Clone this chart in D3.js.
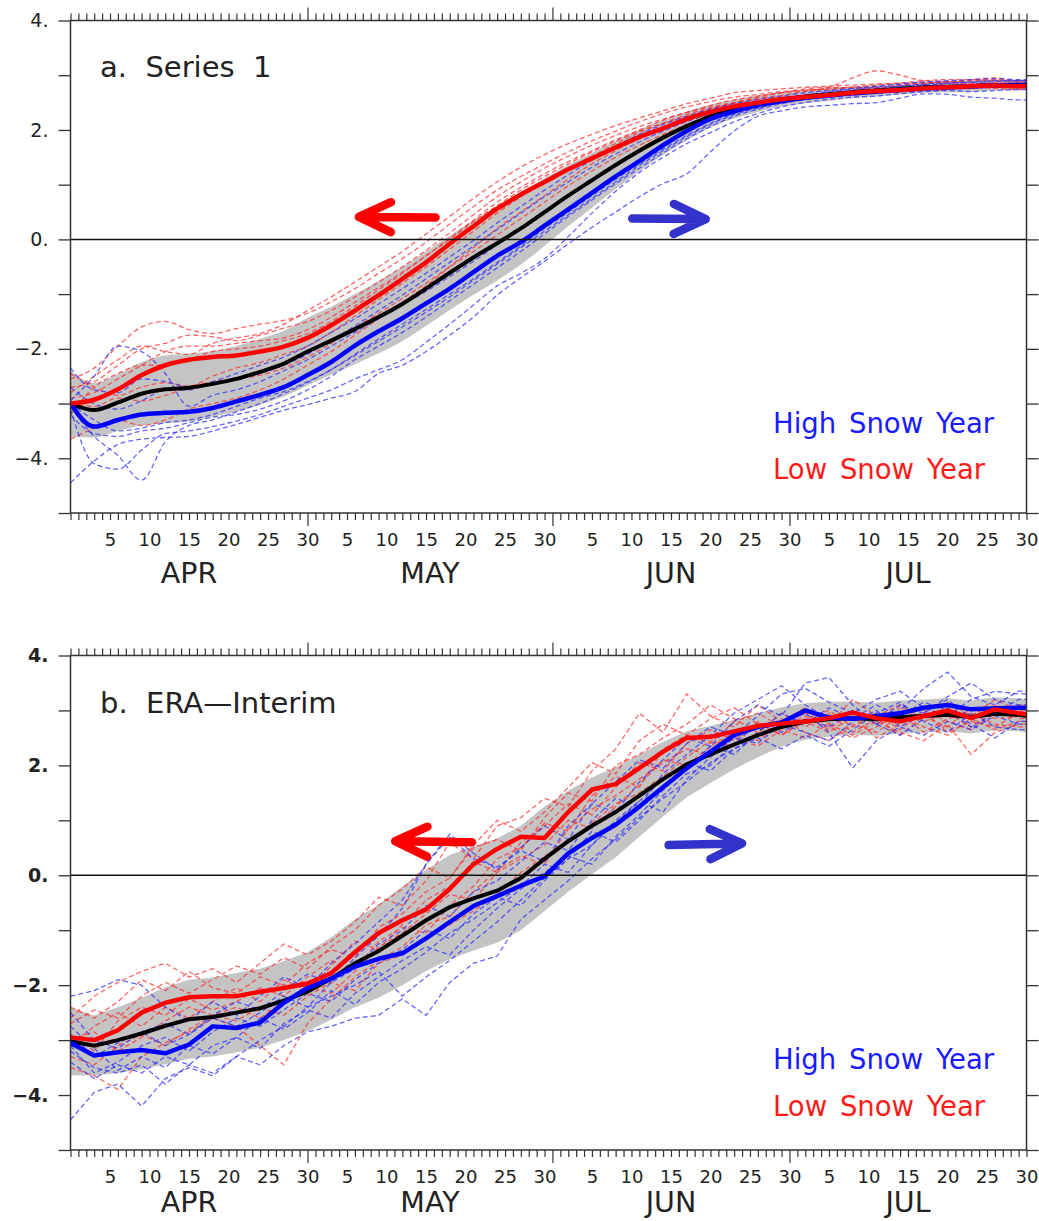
<!DOCTYPE html>
<html>
<head>
<meta charset="utf-8">
<script src="https://cdn.jsdelivr.net/npm/d3@7"></script>
<style>
  body { margin: 0; background: #fff; }
  svg { display: block; }
  text { font-family: "DejaVu Sans", sans-serif; }
</style>
</head>
<body>
<svg id="fig" width="1039" height="1221"></svg>
<script>
// Day index: 0 = Mar 31, 30 = Apr 30, 61 = May 31, 91 = Jun 30, 121 = Jul 30
const days = [0,3,6,9,12,15,18,21,24,27,30,33,36,39,
  42,45,48,51,54,57,60,63,66,69,72,75,78,81,
  84,87,90,93,96,99,102,105,108,111,114,117,120,121];

const dayTickLabels = [5,10,15,20,25,30, 35,40,45,50,55,60, 66,71,76,81,86,91, 96,101,106,111,116,121];
const dayTickText   = ["5","10","15","20","25","30","5","10","15","20","25","30",
                       "5","10","15","20","25","30","5","10","15","20","25","30"];
const monthPos   = [15, 45.5, 76, 106];
const monthNames = ["APR","MAY","JUN","JUL"];
const longTicks  = [30, 61, 91];
const yTicks     = [-5,-4,-3,-2,-1,0,1,2,3,4];

// ---------------- Panel a: Series 1 ----------------
const meanA = [-3.00,-3.12,-2.98,-2.82,-2.74,-2.71,-2.64,-2.55,-2.42,-2.27,-2.05,-1.85,-1.64,-1.42,
  -1.18,-0.90,-0.61,-0.33,-0.07,0.20,0.50,0.80,1.08,1.36,1.62,1.86,2.07,2.25,
  2.38,2.48,2.56,2.61,2.65,2.69,2.72,2.75,2.78,2.79,2.80,2.82,2.82,2.82];
const spreadA = [0.60,0.50,0.52,0.58,0.62,0.62,0.60,0.60,0.60,0.60,0.62,0.62,0.64,0.66,
  0.68,0.68,0.68,0.68,0.68,0.66,0.62,0.56,0.50,0.44,0.38,0.32,0.26,0.21,
  0.17,0.15,0.13,0.12,0.12,0.11,0.11,0.10,0.10,0.10,0.10,0.10,0.10,0.10];
const lowSnowA = [-3.00,-2.93,-2.74,-2.48,-2.30,-2.20,-2.15,-2.12,-2.05,-1.96,-1.80,-1.57,-1.30,-1.02,
  -0.72,-0.42,-0.08,0.24,0.56,0.82,1.05,1.28,1.48,1.68,1.87,2.03,2.20,2.33,
  2.43,2.50,2.56,2.60,2.64,2.68,2.71,2.73,2.76,2.78,2.80,2.81,2.80,2.80];
const highSnowA = [-3.00,-3.42,-3.30,-3.20,-3.17,-3.15,-3.08,-2.96,-2.84,-2.70,-2.48,-2.24,-1.94,-1.68,
  -1.44,-1.17,-0.90,-0.60,-0.30,-0.05,0.25,0.55,0.85,1.15,1.43,1.72,1.98,2.20,
  2.34,2.45,2.53,2.59,2.63,2.67,2.70,2.73,2.76,2.78,2.80,2.81,2.81,2.81];
const lowYearsA = [
  [-2.55,-2.35,-1.95,-1.60,-1.50,-1.65,-1.72,-1.63,-1.55,-1.48,-1.35,-1.14,-0.90,-0.62,
   -0.35,-0.05,0.28,0.60,0.90,1.15,1.38,1.60,1.80,1.98,2.15,2.30,2.42,2.52,
   2.60,2.65,2.70,2.73,2.74,2.78,2.82,2.85,2.86,2.88,2.90,2.92,2.90,2.90],
  [-2.70,-2.60,-2.30,-2.00,-1.90,-1.75,-1.78,-1.85,-1.75,-1.62,-1.50,-1.30,-1.05,-0.78,
   -0.50,-0.20,0.12,0.45,0.78,1.05,1.30,1.52,1.72,1.90,2.06,2.20,2.32,2.45,
   2.55,2.62,2.68,2.72,2.78,2.95,3.08,3.00,2.90,2.88,2.92,2.95,2.88,2.86],
  [-2.90,-2.80,-2.55,-2.30,-2.05,-1.95,-1.95,-1.90,-1.85,-1.80,-1.65,-1.42,-1.15,-0.88,
   -0.60,-0.30,0.02,0.35,0.68,0.95,1.20,1.42,1.62,1.82,2.00,2.18,2.32,2.42,
   2.50,2.58,2.63,2.70,2.75,2.78,2.76,2.80,2.84,2.88,2.86,2.85,2.82,2.80],
  [-3.65,-3.45,-3.30,-3.40,-3.30,-3.10,-3.00,-2.90,-2.75,-2.55,-2.30,-2.05,-1.75,-1.45,
   -1.15,-0.85,-0.50,-0.15,0.20,0.50,0.80,1.10,1.38,1.62,1.85,2.02,2.18,2.30,
   2.40,2.48,2.55,2.60,2.62,2.65,2.70,2.72,2.74,2.76,2.78,2.76,2.74,2.74],
  [-2.45,-2.70,-2.85,-2.70,-2.62,-2.68,-2.50,-2.35,-2.25,-2.10,-1.95,-1.70,-1.40,-1.10,
   -0.80,-0.50,-0.18,0.15,0.48,0.78,1.05,1.30,1.52,1.75,1.95,2.12,2.28,2.40,
   2.48,2.55,2.60,2.64,2.68,2.70,2.74,2.76,2.80,2.82,2.80,2.82,2.84,2.84],
  [-3.20,-2.70,-2.45,-2.30,-2.30,-2.20,-2.05,-2.00,-1.95,-1.85,-1.72,-1.50,-1.22,-0.92,
   -0.62,-0.30,0.00,0.32,0.62,0.90,1.15,1.38,1.60,1.80,1.98,2.12,2.25,2.38,
   2.50,2.60,2.68,2.75,2.78,2.76,2.78,2.82,2.86,2.86,2.84,2.86,2.86,2.85],
  [-3.00,-3.05,-2.90,-2.95,-2.85,-2.70,-2.60,-2.55,-2.48,-2.35,-2.15,-1.90,-1.62,-1.35,
   -1.08,-0.80,-0.50,-0.22,0.08,0.38,0.68,0.98,1.25,1.50,1.72,1.92,2.10,2.25,
   2.36,2.45,2.52,2.58,2.62,2.66,2.68,2.70,2.72,2.74,2.76,2.78,2.78,2.78],
  [-2.80,-2.50,-2.20,-1.95,-2.05,-2.10,-1.90,-1.80,-1.72,-1.55,-1.30,-1.05,-0.78,-0.50,
   -0.22,0.10,0.42,0.75,1.05,1.32,1.55,1.75,1.92,2.08,2.22,2.35,2.48,2.58,
   2.68,2.72,2.75,2.78,2.80,2.82,2.84,2.86,2.90,2.92,2.92,2.90,2.88,2.88]
];
const highYearsA = [
  [-4.45,-4.05,-3.75,-3.65,-3.62,-3.60,-3.50,-3.38,-3.25,-3.12,-3.02,-2.90,-2.78,-2.45,
   -2.30,-2.05,-1.75,-1.42,-1.02,-0.70,-0.40,-0.08,0.22,0.50,0.78,1.02,1.20,1.60,
   1.98,2.25,2.35,2.42,2.45,2.48,2.50,2.58,2.66,2.65,2.60,2.58,2.55,2.55],
  [-3.10,-4.10,-4.20,-3.85,-3.55,-3.50,-3.42,-3.32,-3.20,-3.05,-2.90,-2.75,-2.55,-2.38,
   -2.20,-1.88,-1.55,-1.20,-0.85,-0.62,-0.35,0.05,0.48,0.88,1.22,1.50,1.75,1.95,
   2.15,2.30,2.42,2.50,2.56,2.60,2.62,2.66,2.70,2.72,2.70,2.72,2.74,2.74],
  [-2.95,-2.50,-1.95,-2.05,-2.45,-3.05,-2.85,-2.75,-2.60,-2.40,-2.20,-1.95,-1.70,-1.45,
   -1.20,-0.95,-0.68,-0.40,-0.10,0.20,0.50,0.80,1.10,1.38,1.62,1.85,2.05,2.22,
   2.36,2.47,2.55,2.62,2.68,2.72,2.75,2.80,2.84,2.86,2.88,2.90,2.90,2.88],
  [-2.35,-2.75,-2.80,-2.55,-2.60,-2.70,-2.65,-2.55,-2.45,-2.30,-2.10,-1.85,-1.58,-1.30,
   -1.02,-0.72,-0.42,-0.12,0.18,0.48,0.78,1.05,1.32,1.56,1.78,1.98,2.15,2.30,
   2.42,2.50,2.58,2.64,2.70,2.74,2.78,2.80,2.82,2.85,2.87,2.88,2.90,2.90],
  [-3.05,-3.60,-3.95,-4.40,-3.70,-3.40,-3.30,-3.15,-3.00,-2.82,-2.62,-2.38,-2.10,-1.82,
   -1.55,-1.28,-1.00,-0.72,-0.42,-0.12,0.20,0.50,0.80,1.10,1.38,1.65,1.90,2.12,
   2.30,2.42,2.50,2.56,2.62,2.66,2.70,2.74,2.78,2.80,2.82,2.84,2.85,2.85],
  [-3.00,-3.30,-3.50,-3.45,-3.35,-3.30,-3.20,-3.05,-2.90,-2.78,-2.60,-2.38,-2.12,-1.86,
   -1.60,-1.33,-1.05,-0.75,-0.45,-0.15,0.15,0.45,0.75,1.05,1.35,1.62,1.88,2.10,
   2.28,2.40,2.50,2.58,2.64,2.68,2.72,2.76,2.78,2.80,2.82,2.84,2.86,2.86],
  [-2.70,-3.00,-3.10,-2.95,-2.75,-2.75,-2.60,-2.45,-2.30,-2.15,-1.95,-1.70,-1.45,-1.18,
   -0.90,-0.62,-0.32,-0.02,0.30,0.60,0.90,1.18,1.45,1.70,1.92,2.10,2.25,2.38,
   2.48,2.56,2.62,2.68,2.72,2.76,2.80,2.84,2.88,2.90,2.92,2.94,2.92,2.92],
  [-3.20,-3.55,-3.60,-3.50,-3.45,-3.35,-3.25,-3.20,-3.10,-2.95,-2.75,-2.50,-2.20,-1.95,
   -1.70,-1.42,-1.12,-0.82,-0.52,-0.22,0.10,0.42,0.72,1.02,1.30,1.58,1.84,2.06,
   2.25,2.38,2.48,2.55,2.60,2.64,2.68,2.70,2.72,2.74,2.76,2.78,2.80,2.80]
];

// ---------------- Panel b: ERA-Interim ----------------
const meanB = [-3.02,-3.10,-3.00,-2.88,-2.74,-2.62,-2.58,-2.50,-2.42,-2.28,-2.12,-1.88,-1.60,-1.38,
  -1.10,-0.82,-0.58,-0.42,-0.28,-0.05,0.30,0.62,0.90,1.15,1.45,1.75,2.02,2.20,
  2.38,2.55,2.70,2.80,2.84,2.86,2.84,2.88,2.90,2.92,2.88,2.94,2.92,2.90];
const spreadB = [0.62,0.55,0.60,0.65,0.70,0.72,0.72,0.72,0.72,0.72,0.72,0.75,0.80,0.85,
  0.90,0.92,0.95,0.95,0.95,0.95,0.95,0.92,0.88,0.82,0.75,0.68,0.60,0.52,
  0.45,0.40,0.36,0.33,0.32,0.30,0.30,0.30,0.30,0.30,0.30,0.30,0.30,0.30];
const lowSnowB = [-2.95,-3.00,-2.82,-2.50,-2.32,-2.22,-2.20,-2.20,-2.12,-2.05,-1.97,-1.78,-1.40,-1.05,
  -0.82,-0.62,-0.25,0.20,0.48,0.70,0.68,1.15,1.56,1.66,1.95,2.25,2.50,2.52,
  2.62,2.72,2.76,2.80,2.86,2.96,2.86,2.80,2.90,3.00,2.86,3.02,2.95,2.93];
const highSnowB = [-3.05,-3.28,-3.22,-3.18,-3.24,-3.08,-2.75,-2.78,-2.68,-2.32,-2.05,-1.88,-1.66,-1.52,
  -1.42,-1.15,-0.85,-0.56,-0.38,-0.19,-0.02,0.40,0.68,0.92,1.25,1.60,1.95,2.25,
  2.55,2.70,2.78,3.00,2.87,2.85,2.90,2.95,3.05,3.10,3.02,3.04,3.05,3.05];
const lowYearsB = [
  [-2.60,-2.20,-1.95,-1.75,-1.60,-1.85,-1.70,-1.95,-1.60,-1.25,-1.45,-1.20,-0.85,-0.40,
   -0.55,-0.10,0.60,0.30,0.90,1.05,1.40,1.25,1.90,2.30,2.95,2.60,3.30,2.90,
   2.70,3.10,2.80,3.05,2.75,3.20,2.90,3.10,2.85,3.15,2.90,3.20,3.00,3.00],
  [-2.40,-2.60,-2.30,-1.90,-2.10,-1.75,-2.05,-2.15,-1.85,-2.00,-1.60,-1.35,-1.50,-0.95,
   -0.70,-0.30,-0.05,0.50,0.65,0.45,1.05,1.50,1.35,2.00,2.20,2.50,2.75,3.10,
   2.85,2.60,2.95,2.70,2.95,2.60,2.85,2.55,2.90,2.70,3.05,2.85,2.90,2.90],
  [-3.50,-3.65,-3.90,-3.30,-3.05,-2.85,-2.60,-2.75,-3.10,-3.45,-2.70,-2.25,-1.85,-1.55,
   -1.30,-0.90,-0.75,-0.30,0.10,0.35,0.20,0.85,1.20,1.45,1.75,2.05,2.30,2.20,
   2.50,2.35,2.65,2.50,2.75,2.55,2.80,2.60,2.45,2.75,2.20,2.60,2.75,2.75],
  [-2.90,-3.20,-2.65,-2.40,-2.55,-2.25,-2.45,-2.30,-2.05,-2.20,-1.85,-1.55,-1.70,-1.20,
   -0.95,-1.05,-0.55,-0.20,0.30,0.50,0.95,0.80,1.45,1.80,1.60,2.30,2.55,2.40,
   2.80,2.95,2.70,2.90,2.65,3.00,2.75,3.05,2.80,2.95,2.70,3.10,2.85,2.85],
  [-3.10,-2.75,-2.50,-2.75,-2.40,-2.60,-2.30,-2.05,-2.30,-1.90,-2.10,-1.65,-1.20,-1.35,
   -0.90,-0.45,-0.20,0.25,0.05,0.60,0.90,1.30,1.10,1.60,2.05,1.90,2.40,2.65,
   2.45,2.80,2.55,2.85,3.00,2.70,2.95,2.65,3.00,2.80,2.65,2.95,3.10,3.10],
  [-2.70,-2.45,-2.60,-2.20,-1.95,-2.15,-1.90,-1.65,-1.80,-1.50,-1.70,-1.30,-1.00,-0.55,
   -0.25,0.15,-0.05,0.55,1.00,0.80,1.15,1.60,2.05,1.85,2.45,2.75,2.55,2.85,
   3.05,2.75,2.55,2.80,2.60,2.90,2.50,2.75,2.95,2.60,2.80,2.70,2.95,2.95],
  [-3.30,-3.45,-3.10,-2.90,-3.10,-2.80,-2.55,-2.65,-2.40,-2.55,-2.20,-1.95,-2.10,-1.60,
   -1.45,-1.15,-0.90,-0.65,-0.35,0.05,0.35,0.60,0.95,1.30,1.50,1.80,2.15,2.45,
   2.35,2.60,2.85,2.60,2.45,2.75,2.60,2.90,2.70,2.55,2.85,2.65,2.80,2.80],
  [-3.00,-2.85,-3.20,-2.95,-2.65,-2.40,-2.55,-2.40,-2.60,-2.30,-2.00,-2.15,-1.75,-1.30,
   -1.05,-0.70,-0.35,-0.45,0.05,0.30,0.55,1.00,0.85,1.25,1.65,2.10,2.00,2.35,
   2.60,2.45,2.75,2.95,2.70,2.50,2.70,2.95,2.60,2.85,2.95,2.75,2.70,2.70]
];
const highYearsB = [
  [-4.45,-3.95,-3.80,-4.20,-3.70,-3.50,-3.65,-3.30,-3.45,-3.10,-2.85,-2.75,-2.60,-2.55,
   -2.25,-2.55,-1.95,-1.60,-1.47,-0.80,-0.45,-0.10,0.30,0.65,1.05,1.40,1.70,2.05,
   2.30,2.55,2.75,2.95,2.60,1.95,2.45,2.70,2.55,2.80,2.65,2.90,2.75,2.75],
  [-2.20,-2.10,-1.90,-2.00,-2.40,-2.65,-2.30,-2.55,-2.20,-1.85,-2.05,-1.60,-1.25,-0.85,
   -0.45,0.20,0.70,0.30,0.15,0.45,0.25,0.90,1.30,1.15,1.70,2.10,2.50,2.35,
   2.80,3.10,2.90,3.50,3.60,3.10,2.75,3.00,3.40,3.70,3.25,3.10,3.35,3.35],
  [-3.20,-3.50,-3.60,-3.45,-3.80,-3.45,-3.60,-3.30,-3.00,-2.75,-2.40,-2.20,-2.00,-1.75,
   -2.20,-1.85,-1.55,-1.20,-0.85,-0.45,-0.05,0.30,0.55,1.00,1.35,1.15,1.75,2.15,
   2.50,2.40,2.75,2.60,2.45,2.80,3.00,2.70,2.95,3.20,2.85,3.05,2.95,2.95],
  [-2.90,-3.30,-3.05,-2.85,-3.10,-2.90,-2.60,-2.75,-2.50,-2.20,-2.40,-1.95,-1.70,-1.25,
   -1.00,-0.55,-0.75,-0.30,-0.10,0.25,0.60,0.45,1.00,1.40,1.25,1.85,2.20,2.55,
   2.95,3.20,3.45,3.10,2.85,3.00,2.80,3.10,2.95,3.25,3.50,3.20,3.10,3.10],
  [-3.40,-3.70,-3.45,-3.60,-3.30,-3.45,-3.10,-2.95,-3.15,-2.70,-2.45,-2.60,-2.15,-1.85,
   -1.55,-1.30,-1.45,-1.00,-0.60,-0.25,0.05,0.35,0.20,0.70,1.10,1.55,1.95,2.35,
   2.20,2.60,2.95,2.75,3.05,2.85,3.10,2.90,3.15,3.00,2.70,2.95,3.20,3.20],
  [-2.50,-3.00,-3.15,-2.85,-2.70,-2.90,-2.55,-2.30,-2.45,-2.10,-1.80,-1.95,-1.50,-1.10,
   -0.60,0.20,0.75,0.40,0.10,0.50,0.90,0.65,1.30,1.70,2.10,1.95,2.40,2.70,
   2.55,2.90,3.30,3.40,3.15,2.95,3.20,3.35,3.05,2.90,3.20,3.35,3.30,3.30],
  [-3.10,-3.60,-3.40,-3.10,-2.95,-3.20,-2.85,-2.60,-2.75,-2.45,-2.15,-2.30,-1.90,-1.60,
   -1.35,-1.00,-1.15,-0.70,-0.40,-0.55,-0.10,0.30,0.80,0.60,1.00,1.45,1.85,2.00,
   2.40,2.75,2.60,2.85,2.70,3.00,2.75,2.55,2.85,3.05,2.75,2.50,2.80,2.80],
  [-2.75,-3.15,-3.55,-3.30,-3.50,-3.10,-3.25,-2.95,-2.60,-2.80,-2.50,-2.10,-2.35,-1.95,
   -1.70,-1.40,-1.05,-0.80,-0.50,-0.20,0.20,0.05,0.55,0.95,1.35,1.75,2.05,1.90,
   2.30,2.50,2.30,2.55,2.35,2.65,2.95,3.15,2.80,2.60,2.95,2.70,2.65,2.65]
];

// Arrow annotations in data units [day, value]
const arrowsA = [
  { from: [46.2, 0.40], to: [36.5, 0.41], color: "#ff0000" },
  { from: [71.1, 0.38], to: [80.4, 0.37], color: "#3333cc" }
];
const arrowsB = [
  { from: [50.8, 0.60], to: [41.1, 0.62], color: "#ff0000" },
  { from: [75.7, 0.55], to: [85.0, 0.58], color: "#3333cc" }
];

const panels = [
  { id: "a", top: 20.5, bottom: 513, title: "a.  Series  1", boldY: false, smooth: true, monthGap: 70,
    mean: meanA, spread: spreadA, low: lowSnowA, high: highSnowA,
    lowYears: lowYearsA, highYears: highYearsA, arrows: arrowsA },
  { id: "b", top: 655.5, bottom: 1150, title: "b.  ERA\u2014Interim", boldY: true, smooth: false, monthGap: 62,
    mean: meanB, spread: spreadB, low: lowSnowB, high: highSnowB,
    lowYears: lowYearsB, highYears: highYearsB, arrows: arrowsB }
];

const svg = d3.select("#fig");
const x = d3.scaleLinear().domain([0, 121]).range([70.5, 1026.5]);
const axisColor = "#333";

panels.forEach(p => {
  const y = d3.scaleLinear().domain([-5, 4]).range([p.bottom, p.top]);
  const g = svg.append("g").attr("class", "panel-" + p.id);
  const curve = p.smooth ? d3.curveMonotoneX : d3.curveLinear;

  g.append("clipPath").attr("id", "clip-" + p.id)
    .append("rect").attr("x", x(0)).attr("y", y(4))
    .attr("width", x(121) - x(0)).attr("height", y(-5) - y(4));
  const plot = g.append("g").attr("clip-path", `url(#clip-${p.id})`);

  // spread band around the all-year mean
  const band = d3.area()
    .x((d, i) => x(days[i]))
    .y0((d, i) => y(p.mean[i] - p.spread[i]))
    .y1((d, i) => y(p.mean[i] + p.spread[i]))
    .curve(curve);
  plot.append("path").datum(p.mean).attr("d", band).attr("fill", "#c4c4c4");

  const line = d3.line().x((d, i) => x(days[i])).y(d => y(d)).curve(curve);

  // individual years (dashed)
  plot.selectAll(".low-year").data(p.lowYears).join("path")
    .attr("class", "low-year").attr("d", line).attr("fill", "none")
    .attr("stroke", "#ff2a2a").attr("stroke-opacity", 0.72)
    .attr("stroke-width", 1.3).attr("stroke-dasharray", "5,3");
  plot.selectAll(".high-year").data(p.highYears).join("path")
    .attr("class", "high-year").attr("d", line).attr("fill", "none")
    .attr("stroke", "#2a2aff").attr("stroke-opacity", 0.72)
    .attr("stroke-width", 1.3).attr("stroke-dasharray", "5,3");

  // zero line
  g.append("line").attr("x1", x(0)).attr("x2", x(121))
    .attr("y1", y(0)).attr("y2", y(0)).attr("stroke", "#111").attr("stroke-width", 1.5);

  // composites
  plot.append("path").datum(p.mean).attr("d", line).attr("fill", "none")
    .attr("stroke", "#000").attr("stroke-width", 4);
  plot.append("path").datum(p.high).attr("d", line).attr("fill", "none")
    .attr("stroke", "#0000ff").attr("stroke-width", 4.5).attr("stroke-linejoin", "round");
  plot.append("path").datum(p.low).attr("d", line).attr("fill", "none")
    .attr("stroke", "#ff0000").attr("stroke-width", 4.5).attr("stroke-linejoin", "round");

  // arrows
  p.arrows.forEach(a => {
    const x0 = x(a.from[0]), y0 = y(a.from[1]);
    const x1 = x(a.to[0]), y1 = y(a.to[1]);
    const ang = Math.atan2(y1 - y0, x1 - x0);
    const back = 32, side = 15;
    const bx = x1 - back * Math.cos(ang), by = y1 - back * Math.sin(ang);
    const h1 = [bx - side * Math.sin(ang), by + side * Math.cos(ang)];
    const h2 = [bx + side * Math.sin(ang), by - side * Math.cos(ang)];
    g.append("path")
      .attr("d", `M${x0},${y0}L${x1 - 4 * Math.cos(ang)},${y1 - 4 * Math.sin(ang)}M${h1[0]},${h1[1]}L${x1},${y1}L${h2[0]},${h2[1]}`)
      .attr("fill", "none").attr("stroke", a.color).attr("stroke-width", 8.5)
      .attr("stroke-linecap", "round").attr("stroke-linejoin", "round");
  });

  // frame
  g.append("rect").attr("x", x(0)).attr("y", y(4))
    .attr("width", x(121) - x(0)).attr("height", y(-5) - y(4))
    .attr("fill", "none").attr("stroke", axisColor).attr("stroke-width", 1.5);

  // day ticks (bottom and top)
  const allDays = d3.range(0, 122);
  const bottomTicks = g.append("g").attr("transform", `translate(0,${y(-5)})`)
    .call(d3.axisBottom(x).tickValues(allDays).tickSize(7).tickSizeOuter(0).tickFormat(""));
  const topTicks = g.append("g").attr("transform", `translate(0,${y(4)})`)
    .call(d3.axisTop(x).tickValues(allDays).tickSize(7).tickSizeOuter(0).tickFormat(""));
  [bottomTicks, topTicks].forEach((ax, k) => {
    ax.select(".domain").remove();
    ax.selectAll(".tick line").attr("stroke", axisColor).attr("stroke-width", 1.2)
      .attr("y2", d => (longTicks.includes(d) ? 13 : 7) * (k === 0 ? 1 : -1));
  });

  // day labels
  const dayLab = g.append("g").attr("transform", `translate(0,${y(-5)})`)
    .call(d3.axisBottom(x).tickValues(dayTickLabels).tickSize(0).tickPadding(20)
      .tickFormat((d, i) => dayTickText[i]));
  dayLab.select(".domain").remove();
  dayLab.selectAll("text").attr("font-size", 18).attr("fill", "#222")
    .attr("font-family", "DejaVu Sans, sans-serif");

  // month labels
  g.selectAll(".month").data(monthNames).join("text").attr("class", "month")
    .attr("x", (d, i) => x(monthPos[i])).attr("y", y(-5) + p.monthGap)
    .attr("text-anchor", "middle").attr("font-size", 28.5).attr("fill", "#222")
    .text(d => d);

  // value axes
  const fmt = v => (v % 2 === 0 ? (v < 0 ? "\u2212" + Math.abs(v) : String(v)) + "." : "");
  const left = g.append("g").attr("transform", `translate(${x(0)},0)`)
    .call(d3.axisLeft(y).tickValues(yTicks).tickSize(12).tickSizeOuter(0).tickPadding(10).tickFormat(fmt));
  left.select(".domain").remove();
  left.selectAll(".tick line").attr("stroke", axisColor).attr("stroke-width", 1.3);
  left.selectAll("text").attr("font-size", 19).attr("fill", "#222")
    .attr("font-weight", p.boldY ? "bold" : "normal")
    .attr("font-family", "DejaVu Sans, sans-serif");
  const right = g.append("g").attr("transform", `translate(${x(121)},0)`)
    .call(d3.axisRight(y).tickValues(yTicks).tickSize(12).tickSizeOuter(0).tickFormat(""));
  right.select(".domain").remove();
  right.selectAll(".tick line").attr("stroke", axisColor).attr("stroke-width", 1.3);

  // title
  g.append("text").attr("x", 100).attr("y", y(2.96))
    .attr("font-size", 29).attr("fill", "#222").style("white-space", "pre")
    .text(p.title);

  // legend
  g.append("text").attr("x", 773).attr("y", y(-3.53))
    .attr("font-size", 27.5).attr("fill", "#1a1aff").attr("word-spacing", 4)
    .text("High Snow Year");
  g.append("text").attr("x", 773).attr("y", y(-4.38))
    .attr("font-size", 27.5).attr("fill", "#ff1a1a").attr("word-spacing", 4)
    .text("Low Snow Year");
});
</script>
</body>
</html>
